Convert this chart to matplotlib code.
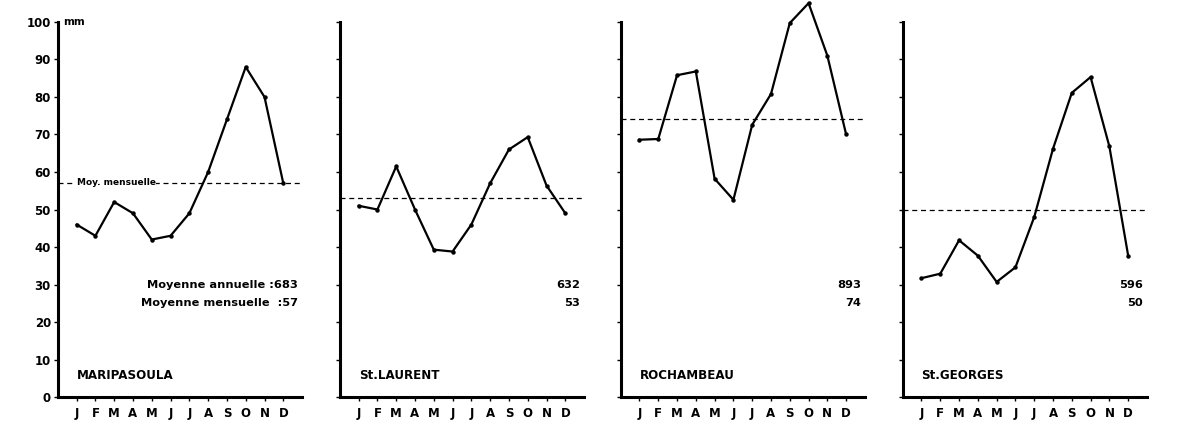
import matplotlib.pyplot as plt
import numpy as np

# Monthly rainfall (mm) at four stations of French Guiana
months = ['J', 'F', 'M', 'A', 'M', 'J', 'J', 'A', 'S', 'O', 'N', 'D']
stations = ['MARIPASOULA', 'St.LAURENT', 'ROCHAMBEAU', 'St.GEORGES']

maripasoula = [46, 43, 52, 49, 42, 43, 49, 60, 74, 88, 80, 57]
st_laurent = [51, 50, 61.5, 50, 39.3, 38.8, 46, 57, 66, 69.3, 56.4, 49]
rochambeau = [68.6, 68.8, 85.8, 86.8, 58.2, 52.6, 72.6, 80.8, 99.7, 105, 91, 70]
st_georges = [31.7, 32.9, 41.8, 37.7, 30.7, 34.6, 48, 66.2, 81.1, 85.3, 66.8, 37.7]

annual_mean = [683, 632, 893, 596]
monthly_mean = [57, 53, 74, 50]

series = [maripasoula, st_laurent, rochambeau, st_georges]
yticks = np.arange(0, 101, 10)

plt.rcParams['font.family'] = ['DejaVu Sans']
plt.rcParams['font.weight'] = 'bold'

fig = plt.figure(figsize=(11.8, 4.22), dpi=100)
lefts = [0.049, 0.288, 0.526, 0.765]
x = np.arange(1, 13)

for i, ax_left in enumerate(lefts):
    ax = fig.add_axes([ax_left, 0.059, 0.207, 0.889])
    ax.set_xlim(0, 13)
    ax.set_ylim(0, 100)

    # mean monthly rainfall, dashed
    ax.axhline(monthly_mean[i], color='black', lw=0.9, ls=(0, (4, 3)), zorder=1)
    # monthly curve
    ax.plot(x, series[i], color='black', lw=1.6, marker='o', ms=2.2,
            clip_on=False, zorder=3)

    for side in ['top', 'right']:
        ax.spines[side].set_visible(False)
    for side in ['left', 'bottom']:
        ax.spines[side].set_linewidth(2.2)

    ax.set_xticks(x)
    ax.set_xticklabels(months, fontsize=8.5, fontweight='bold')
    ax.set_yticks(yticks)
    ax.tick_params(axis='x', length=3, width=1, pad=4)
    ax.tick_params(axis='y', length=3, width=1, pad=2)
    if i == 0:
        ax.set_yticklabels([str(v) for v in yticks], fontsize=8.5, fontweight='bold')
        ax.text(0.3, 100, 'mm', fontsize=7.5, fontweight='bold', va='center', ha='left')
        ax.text(1.0, monthly_mean[i] + 0.3, 'Moy. mensuelle', fontsize=6.5,
                fontweight='bold', va='center', ha='left',
                bbox=dict(facecolor='white', edgecolor='none', pad=0.5), zorder=2)
        ax.text(12.8, 30, 'Moyenne annuelle :%d' % annual_mean[i], fontsize=8.2,
                fontweight='bold', ha='right', va='center')
        ax.text(12.8, 25, 'Moyenne mensuelle  :%d' % monthly_mean[i], fontsize=8.2,
                fontweight='bold', ha='right', va='center')
    else:
        ax.set_yticklabels([])
        ax.text(12.8, 30, str(annual_mean[i]), fontsize=8.2, fontweight='bold',
                ha='right', va='center')
        ax.text(12.8, 25, str(monthly_mean[i]), fontsize=8.2, fontweight='bold',
                ha='right', va='center')

    ax.text(1.0, 5.8, stations[i], fontsize=8.6, fontweight='bold',
            ha='left', va='center')

fig.savefig('out.png', dpi=100)
